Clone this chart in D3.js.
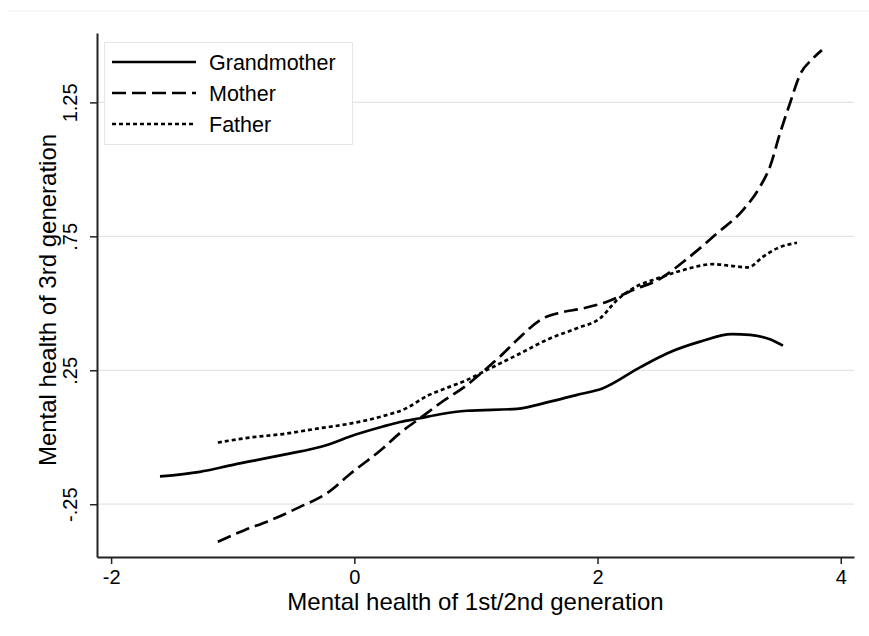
<!DOCTYPE html>
<html lang="en">
<head>
    <meta charset="UTF-8">
    <title>Mental health across generations</title>
    <style>
        body {
            margin: 0;
            background: #fff;
            font-family: "Liberation Sans", Arial, sans-serif;
        }
        .grid line {
            stroke: #e4e4e4;
            stroke-width: 1.2;
        }
        .axis path,
        .axis line {
            stroke: #222;
        }
        .axis path {
            stroke-width: 2;
        }
        .axis line {
            stroke-width: 1.5;
        }
        .axis text {
            font-family: "Liberation Sans", Arial, sans-serif;
            font-size: 20px;
            fill: #000;
        }
        .title {
            font-size: 24px;
            fill: #000;
        }
        .legend text {
            font-size: 21.5px;
            fill: #000;
        }
    </style>
</head>
<body>
    <svg width="869" height="636"></svg>
    <script src="https://d3js.org/d3.v7.min.js"></script>
    <script>
        // x = mental health of 1st/2nd generation, y = mental health of 3rd generation
        const grandmotherX = [-1.598, -1.27, -0.998, -0.587, -0.225, -0.035, 0.236, 0.376, 0.540, 0.705, 0.927, 1.338, 1.609, 1.831, 2.045, 2.349, 2.571, 2.843, 3.106, 3.254, 3.418, 3.525];
        const grandmotherY = [-0.146, -0.129, -0.103, -0.066, -0.029, 0.003, 0.040, 0.057, 0.071, 0.086, 0.099, 0.106, 0.133, 0.158, 0.183, 0.261, 0.313, 0.357, 0.385, 0.382, 0.366, 0.342];

        const motherX = [-1.122, -0.899, -0.718, -0.447, -0.225, -0.035, 0.236, 0.376, 0.540, 0.705, 0.927, 1.058, 1.198, 1.338, 1.552, 1.692, 1.881, 2.078, 2.292, 2.514, 2.703, 2.843, 2.982, 3.196, 3.336, 3.418, 3.500, 3.582, 3.664, 3.771, 3.845];
        const motherY = [-0.390, -0.346, -0.315, -0.260, -0.209, -0.137, -0.041, 0.016, 0.071, 0.127, 0.195, 0.245, 0.301, 0.363, 0.444, 0.465, 0.481, 0.506, 0.550, 0.591, 0.654, 0.706, 0.761, 0.848, 0.935, 1.010, 1.134, 1.246, 1.352, 1.414, 1.445];

        const fatherX = [-1.122, -0.858, -0.587, -0.307, -0.035, 0.236, 0.417, 0.598, 0.787, 0.927, 1.116, 1.338, 1.609, 1.831, 2.021, 2.161, 2.292, 2.514, 2.703, 2.949, 3.114, 3.238, 3.361, 3.476, 3.640];
        const fatherY = [-0.020, -0.001, 0.012, 0.032, 0.051, 0.079, 0.106, 0.154, 0.189, 0.214, 0.257, 0.307, 0.369, 0.407, 0.444, 0.512, 0.556, 0.596, 0.624, 0.646, 0.639, 0.634, 0.674, 0.705, 0.726];

        const xTicks = [-2, 0, 2, 4];
        const xTickLabels = ["-2", "0", "2", "4"];
        const yTicks = [-0.25, 0.25, 0.75, 1.25];
        const yTickLabels = ["-.25", ".25", ".75", "1.25"];

        const seriesNames = ["Grandmother", "Mother", "Father"];
        const dashes = [null, "14,6", "4,3"];

        const svg = d3.select("svg");

        const x = d3.scaleLinear().domain([-2.116, 4.109]).range([97, 854]);
        const y = d3.scaleLinear().domain([-0.447, 1.509]).range([557, 33]);

        // faint outer frame line at the top
        svg.append("line")
            .attr("x1", 8).attr("x2", 869)
            .attr("y1", 11).attr("y2", 11)
            .style("stroke", "#eeeeee")
            .style("stroke-width", 1);

        // gridlines
        svg.append("g")
            .attr("class", "grid")
            .selectAll("line")
            .data(yTicks)
            .enter().append("line")
            .attr("x1", x.range()[0])
            .attr("x2", x.range()[1])
            .attr("y1", d => y(d))
            .attr("y2", d => y(d));

        // axes
        const xAxis = d3.axisBottom(x)
            .tickValues(xTicks)
            .tickSize(7)
            .tickSizeOuter(0)
            .tickPadding(4)
            .tickFormat((d, i) => xTickLabels[i]);

        const yAxis = d3.axisLeft(y)
            .tickValues(yTicks)
            .tickSize(7)
            .tickSizeOuter(0)
            .tickFormat((d, i) => yTickLabels[i]);

        svg.append("g")
            .attr("class", "axis")
            .attr("transform", "translate(0,557)")
            .call(xAxis)
            .selectAll("text")
            .attr("dy", "0.78em");

        const yG = svg.append("g")
            .attr("class", "axis")
            .attr("transform", "translate(97,0)")
            .call(yAxis);

        yG.selectAll(".tick text")
            .attr("x", 0)
            .attr("dy", 0)
            .attr("text-anchor", "middle")
            .attr("transform", "translate(-20,0) rotate(-90)");

        // axis titles
        svg.append("text")
            .attr("class", "title")
            .attr("x", (x.range()[0] + x.range()[1]) / 2)
            .attr("y", 610)
            .attr("text-anchor", "middle")
            .text("Mental health of 1st/2nd generation");

        svg.append("text")
            .attr("class", "title")
            .attr("transform", "translate(56,300) rotate(-90)")
            .attr("text-anchor", "middle")
            .text("Mental health of 3rd generation");

        // curves
        const line = d3.line()
            .x(d => x(d[0]))
            .y(d => y(d[1]))
            .curve(d3.curveMonotoneX);

        const series = [
            d3.zip(grandmotherX, grandmotherY),
            d3.zip(motherX, motherY),
            d3.zip(fatherX, fatherY)
        ];

        svg.append("g")
            .selectAll("path")
            .data(series)
            .enter().append("path")
            .attr("d", line)
            .style("fill", "none")
            .style("stroke", "#000")
            .style("stroke-width", 2.7)
            .style("stroke-dasharray", (d, i) => dashes[i]);

        // legend
        const legend = svg.append("g").attr("class", "legend");

        legend.append("rect")
            .attr("x", 104.5).attr("y", 42.5)
            .attr("width", 248).attr("height", 102)
            .style("fill", "#fff")
            .style("stroke", "#e6e6e6")
            .style("stroke-width", 1);

        const rows = legend.selectAll(".row")
            .data(seriesNames)
            .enter().append("g")
            .attr("class", "row")
            .attr("transform", (d, i) => `translate(0,${62 + i * 31})`);

        rows.append("line")
            .attr("x1", 112).attr("x2", 196)
            .style("stroke", "#000")
            .style("stroke-width", 2.7)
            .style("stroke-dasharray", (d, i) => dashes[i]);

        rows.append("text")
            .attr("x", 209)
            .attr("y", 7.5)
            .text(d => d);
    </script>
</body>
</html>
